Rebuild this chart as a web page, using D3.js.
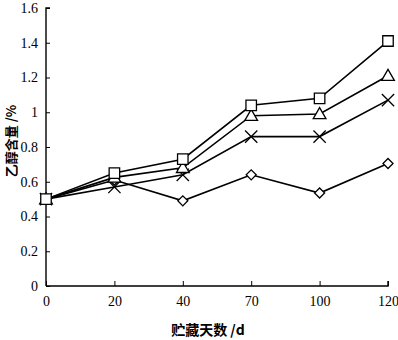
<!DOCTYPE html>
<html>
<head>
<meta charset="utf-8">
<script src="https://cdn.jsdelivr.net/npm/d3@7"></script>
<style>
  html, body { margin: 0; padding: 0; background: #fff; }
  svg { display: block; }
</style>
</head>
<body>
<svg id="chart" width="398" height="340"></svg>
<script>
// Storage time (days) and ethanol content (%) for four treatments
const days = ["0", "20", "40", "70", "100", "120"];
const seriesSquare   = [0.50, 0.65, 0.73, 1.04, 1.08, 1.41];
const seriesTriangle = [0.50, 0.625, 0.68, 0.98, 0.99, 1.21];
const seriesCross    = [0.50, 0.57, 0.64, 0.86, 0.86, 1.07];
const seriesDiamond  = [0.50, 0.61, 0.49, 0.64, 0.535, 0.705];
const yTicks = [0, 0.2, 0.4, 0.6, 0.8, 1, 1.2, 1.4, 1.6];

const svg = d3.select("#chart");
const serif = "'Liberation Serif', 'DejaVu Serif', serif";
const cjk = "'Noto Sans CJK SC', sans-serif";

const x = d3.scalePoint().domain(days).range([46, 388]);
const y = d3.scaleLinear().domain([0, 1.6]).range([286, 8]);

// Axes (inward ticks)
const xAxis = d3.axisBottom(x).tickSize(-5).tickPadding(10);
const yAxis = d3.axisLeft(y).tickValues(yTicks).tickSize(-4).tickPadding(8)
  .tickFormat(d => d3.format("")(+d.toFixed(1)));

const gx = svg.append("g").attr("transform", `translate(0,${y(0)})`).call(xAxis);
gx.select(".domain").attr("d", `M${x.range()[0]},0H${x.range()[1]}V-5`);
const gy = svg.append("g").attr("transform", `translate(${x("0")},0)`).call(yAxis);
gy.select(".domain").attr("d", `M4,${y(1.6)}H0V${y(0)}`);

svg.selectAll(".domain").attr("stroke", "#000").attr("stroke-width", 1.4).attr("fill", "none");
svg.selectAll(".tick line").attr("stroke", "#000").attr("stroke-width", 1);
svg.selectAll(".tick text").attr("font-family", serif).attr("font-size", 14).attr("fill", "#000");

// Axis titles
svg.append("text")
  .attr("x", 208).attr("y", 335)
  .attr("text-anchor", "middle")
  .attr("font-family", cjk).attr("font-weight", "bold").attr("font-size", 14)
  .text("贮藏天数 /d");
svg.append("text")
  .attr("transform", "translate(16,141) rotate(-90)")
  .attr("text-anchor", "middle")
  .attr("font-family", cjk).attr("font-weight", "bold").attr("font-size", 13)
  .text("乙醇含量 /%");

// Lines
const series = [
  { values: seriesDiamond,  marker: "diamond" },
  { values: seriesCross,    marker: "cross" },
  { values: seriesTriangle, marker: "triangle" },
  { values: seriesSquare,   marker: "square" }
];
const line = d3.line().x((d, i) => x(days[i])).y(d => y(d));

svg.append("g").selectAll("path").data(series).join("path")
  .attr("d", d => line(d.values))
  .attr("fill", "none").attr("stroke", "#000").attr("stroke-width", 1.6);

// Markers
const symbolMap = {
  square: d3.symbol().type(d3.symbolSquare).size(110),
  triangle: d3.symbol().type(d3.symbolTriangle).size(70),
  diamond: d3.symbol().type(d3.symbolSquare).size(50),
  cross: d3.symbol().type(d3.symbolX).size(100)
};
series.forEach(s => {
  const g = svg.append("g");
  s.values.forEach((v, i) => {
    const p = g.append("path")
      .attr("d", symbolMap[s.marker]())
      .attr("stroke", "#000").attr("stroke-width", 1.3);
    let tf = `translate(${x(days[i])},${y(v)})`;
    if (s.marker === "diamond") tf += " rotate(45)";
    if (s.marker === "triangle") tf += " translate(0,1)";
    p.attr("transform", tf).attr("fill", s.marker === "cross" ? "none" : "#fff");
  });
});
</script>
</body>
</html>
